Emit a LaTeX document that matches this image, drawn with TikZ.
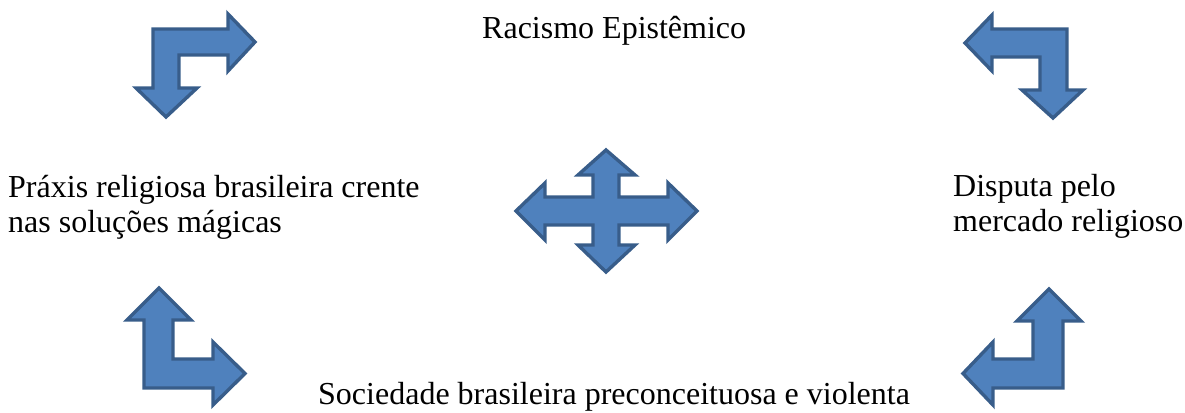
\documentclass[tikz,border=0pt]{standalone}
\usepackage{fontspec}
\setmainfont{Liberation Serif}
\definecolor{arrfill}{HTML}{4F81BD}
\definecolor{arrline}{HTML}{385D8A}
\begin{document}
\begin{tikzpicture}[x=1pt,y=-1pt,
  blockarrow/.style={fill=arrfill,draw=arrline,line width=3.4pt,line join=miter},
  label/.style={inner sep=0pt,anchor=base west,font=\fontsize{32}{35}\selectfont}]
\useasboundingbox (0,0) rectangle (1185,412);
% top-left bent arrow
\draw[blockarrow] (153,29) -- (228,29) -- (228,14) -- (255,42) -- (228,71) -- (228,55)
  -- (179,55) -- (179,88) -- (197,88) -- (166,117) -- (136,88) -- (153,88) -- cycle;
% top-right bent arrow
\draw[blockarrow] (1067,29) -- (992,29) -- (992,15) -- (965,43) -- (992,71) -- (992,57)
  -- (1040,57) -- (1040,90) -- (1022,90) -- (1053,118) -- (1083,90) -- (1067,90) -- cycle;
% bottom-left bent arrow
\draw[blockarrow] (159,288) -- (191,320) -- (173,320) -- (173,359) -- (213,359) -- (213,342)
  -- (245,373.5) -- (213,405) -- (213,388) -- (144,388) -- (144,320) -- (127,320) -- cycle;
% bottom-right bent arrow
\draw[blockarrow] (1049,289) -- (1081,321) -- (1063,321) -- (1063,388) -- (993,388) -- (993,405)
  -- (963,373.5) -- (993,342) -- (993,359) -- (1033,359) -- (1033,321) -- (1017,321) -- cycle;
% central four-way arrow
\draw[blockarrow] (516,211) -- (545,183) -- (545,197) -- (593,197) -- (593,175) -- (578,175)
  -- (606,150) -- (635,175) -- (619,175) -- (619,197) -- (668,197) -- (668,183) -- (697,211)
  -- (668,240) -- (668,225) -- (619,225) -- (619,245) -- (635,245) -- (606,272) -- (578,245)
  -- (593,245) -- (593,225) -- (545,225) -- (545,240) -- cycle;
% texts
\node[label] (top) at (482,38) {Racismo Epistêmico};
\node[label] (left1) at (8,197) {Práxis religiosa brasileira crente};
\node[label] (left2) at (8,232) {nas soluções mágicas};
\node[label] (right1) at (953,196) {Disputa pelo};
\node[label] (right2) at (953,231) {mercado religioso};
\node[label] (bottom) at (318,404) {Sociedade brasileira preconceituosa e violenta};
\end{tikzpicture}
\end{document}
